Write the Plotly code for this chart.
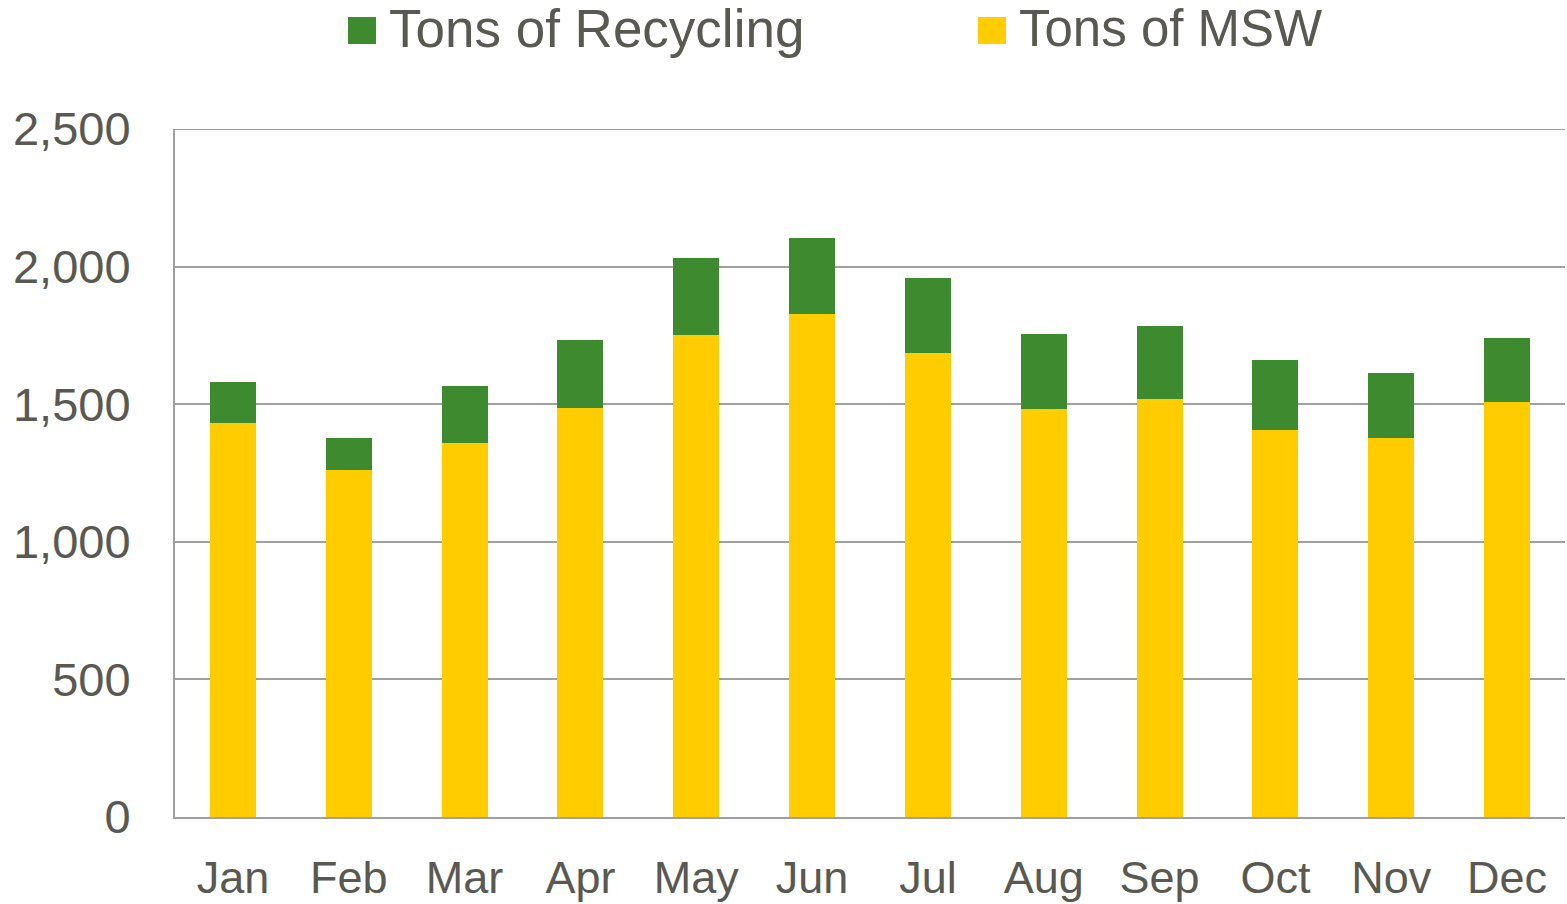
import plotly.graph_objects as go

months = ["Jan", "Feb", "Mar", "Apr", "May", "Jun", "Jul", "Aug", "Sep", "Oct", "Nov", "Dec"]
msw = [1432, 1261, 1359, 1486, 1751, 1828, 1686, 1483, 1519, 1406, 1377, 1508]
recycling = [149, 116, 207, 247, 280, 276, 273, 272, 265, 255, 236, 233]
y_max = 2500

GREEN = "#3d8a2f"
YELLOW = "#ffcc00"
TEXT = "#595952"
GRID = "#a0a0a0"
FONT = "Liberation Sans, Arial, sans-serif"

fig = go.Figure()
fig.add_trace(go.Bar(x=months, y=msw, name="Tons of MSW", marker_color=YELLOW,
                     marker_line_width=0, showlegend=False))
fig.add_trace(go.Bar(x=months, y=recycling, name="Tons of Recycling", marker_color=GREEN,
                     marker_line_width=0, showlegend=False))

fig.update_layout(
    width=1567, height=904,
    barmode="stack", bargap=0.603,
    margin=dict(l=175, r=2, t=129, b=87, autoexpand=False),
    plot_bgcolor="white", paper_bgcolor="white",
    font=dict(family=FONT, color=TEXT, size=47),
)
fig.update_yaxes(range=[0, y_max], dtick=500, tickformat=",d", automargin=False,
                 showgrid=True, gridcolor=GRID, gridwidth=2,
                 showline=True, linecolor=GRID, linewidth=2,
                 zeroline=False, ticks="", ticklabelstandoff=33,
                 tickfont=dict(size=47, color=TEXT))
fig.update_xaxes(showline=True, linecolor=GRID, linewidth=2, ticks="", automargin=False,
                 ticklabelstandoff=20, tickfont=dict(size=45, color=TEXT))

# top gridline (plotly hides grid lines at the range edge)
fig.add_shape(type="line", xref="paper", yref="y", x0=0, x1=1, y0=y_max, y1=y_max,
              line=dict(color=GRID, width=2), layer="below")

# manual legend
legend_items = [("Tons of Recycling", GREEN, 348, 53), ("Tons of MSW", YELLOW, 978, 51)]
for name, col, px, fs in legend_items:
    fig.add_shape(type="rect", xref="paper", yref="paper",
                  x0=(px - 175) / 1390, x1=(px + 28 - 175) / 1390,
                  y0=(817 - 44) / 688, y1=(817 - 17) / 688,
                  fillcolor=col, line_width=0)
    fig.add_annotation(xref="paper", yref="paper", x=(px + 39 - 175) / 1390,
                       y=(817 - 29) / 688, text=name, showarrow=False,
                       xanchor="left", yanchor="middle",
                       font=dict(size=fs, color=TEXT, family=FONT))

fig.write_html("out.html", config={"displayModeBar": False},
               post_script="document.body.style.margin='0';document.body.style.overflow='hidden';")
